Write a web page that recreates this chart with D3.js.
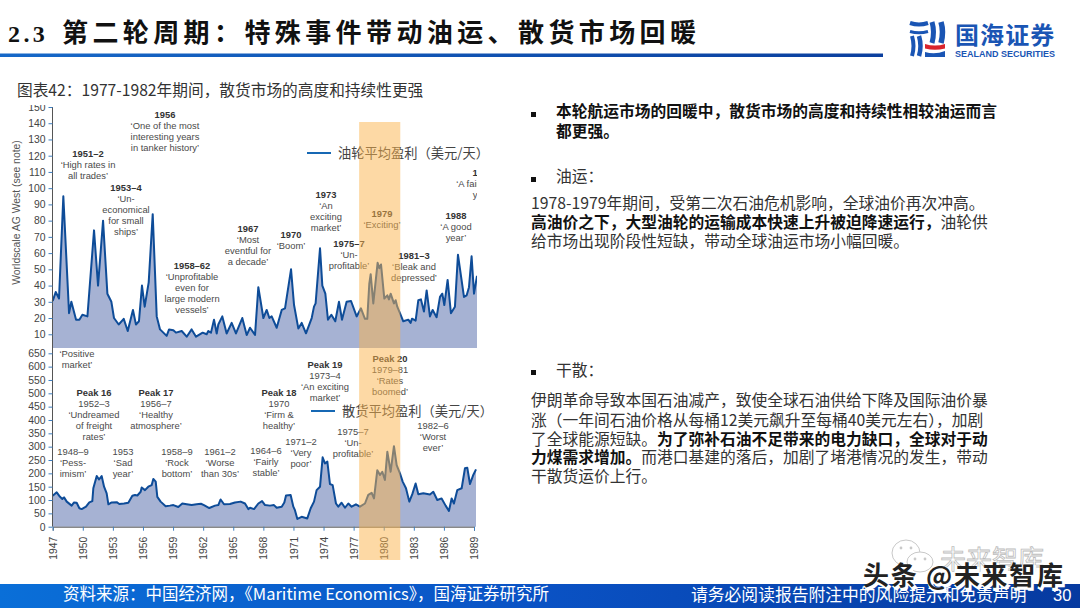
<!DOCTYPE html>
<html><head><meta charset="utf-8">
<script src="https://cdn.jsdelivr.net/npm/d3@7/dist/d3.min.js"></script>
<style>html,body{margin:0;padding:0;background:#fff;overflow:hidden}svg{display:block}
text{font-family:"Noto Sans CJK SC","Liberation Sans",sans-serif}</style></head><body><svg id="c" width="1080" height="608"></svg>
<script>
const tankerYears=[1947,1947.3,1947.63,1948.06,1948.63,1948.86,1949.33,1949.66,1949.96,1950.46,1951.12,1951.52,1952.02,1952.45,1952.85,1953.11,1953.58,1954.08,1954.48,1955,1955.3,1955.6,1955.9,1956.17,1956.57,1956.97,1957.37,1957.7,1958.36,1958.6,1959.03,1959.29,1959.86,1960.36,1960.85,1961.29,1961.95,1962.35,1962.51,1962.78,1963.08,1963.35,1963.51,1963.91,1964.34,1964.84,1965.27,1965.9,1966.34,1966.67,1967.17,1967.5,1968,1968.33,1968.6,1968.83,1969.33,1969.83,1970.16,1970.76,1971.06,1971.49,1971.82,1972.25,1972.82,1973.05,1973.21,1973.65,1973.88,1974.18,1974.44,1974.78,1975.17,1975.54,1975.84,1976.3,1976.74,1977.3,1977.73,1978.13,1978.36,1978.56,1978.7,1978.96,1979.39,1979.56,1979.73,1980.06,1980.36,1980.52,1980.69,1981.02,1981.19,1981.35,1981.62,1981.95,1982.45,1982.68,1982.82,1983.18,1983.45,1983.71,1984.01,1984.28,1984.61,1984.88,1985.27,1985.61,1985.84,1986.04,1986.37,1986.7,1987.1,1987.4,1988,1988.27,1988.5,1988.76,1989,1989.3];
const tankerValues=[30.5,36,32,95,23,30,19,19,22,21,74,40,80,35,30,20,16,19.5,12,25,16,18,40,27,42,84,21,13,9,13,12.5,11,12,8.5,13,8.5,11,10,12,11,19,10.5,16,21,10.5,17,10.5,20,9.5,14,9.6,39,20,25,20,21,14,25,26,50,28,13.5,17,10.6,20,27,29,63,40,35,19,22,18,30,19,30,30.5,21,26,19.5,19.5,41,47,29,54,50.7,53,32,34,31.5,35,29,31,27,23,18,19,17,19.6,18.4,31,31.5,24,37,21,25,20.5,33,35,28,43.5,23,27,59,33,34,39,58,35,46];
const bulkYears=[1947,1947.4,1947.73,1947.96,1948.13,1948.4,1948.89,1949.13,1949.39,1949.66,1949.89,1950.32,1950.65,1950.95,1951.05,1951.39,1951.62,1951.88,1952.12,1952.38,1952.55,1952.88,1953.38,1953.64,1954.11,1954.54,1954.94,1955.21,1955.44,1955.77,1955.87,1956.2,1956.53,1956.87,1957.03,1957.27,1957.43,1957.76,1958.26,1958.69,1959.03,1959.52,1959.92,1960.36,1960.85,1961.35,1961.78,1962.08,1962.61,1963.18,1963.51,1963.74,1964.08,1964.67,1965.17,1965.74,1966.17,1966.5,1966.67,1967.07,1967.5,1967.87,1968.17,1968.66,1969.06,1969.33,1969.83,1970.09,1970.26,1970.72,1970.99,1971.15,1971.39,1971.82,1972.38,1972.72,1973.05,1973.31,1973.65,1973.91,1974.14,1974.38,1974.64,1974.91,1975.24,1975.47,1975.8,1976.14,1976.47,1976.8,1977.23,1977.63,1978.13,1978.46,1978.8,1979.03,1979.36,1979.63,1979.86,1980.12,1980.36,1980.69,1981.02,1981.29,1981.62,1981.89,1982.22,1982.55,1982.85,1983.18,1983.45,1983.95,1984.61,1984.94,1985.34,1985.77,1986.17,1986.5,1986.77,1987,1987.33,1987.77,1988.1,1988.33,1988.6,1988.93,1989.2];
const bulkValues=[116,129,112,104,110,94,79,91,90,69,66,75,91,96,144,190,177,190,150,125,84,91,92,85,87,90,116,119,117,131,147,137,150,156,179,169,112,94,77,79,81,74,87,84,81,84,86,81,70,79,81,102,84,85,91,94,87,66,71,66,87,96,81,79,81,71,75,91,117,119,75,62,29,37,31,69,94,137,150,260,237,244,160,156,87,75,90,71,87,75,84,75,87,119,127,106,212,194,206,175,281,206,302,231,200,169,144,94,122,162,122,125,121,131,100,106,79,59,106,87,137,144,219,221,160,194,215];
const topTicks=d3.range(10,151,10);
const bottomTicks=d3.range(0,651,50);
const yearTicks=d3.range(1947,1990,3);
const highlightYears=[1977.55,1981.65];
const legendTanker="油轮平均盈利（美元/天）", legendBulk="散货平均盈利（美元/天）";
const yTitle="Worldscale AG West (see note)";
const topNotes=[[1,165,118,["1956","‘One of the most","interesting years","in tanker history’"]],
[1,88,157,["1951–2","‘High rates in","all trades’"]],
[1,126,191,["1953–4","‘Un-","economical","for small","ships’"]],
[1,192,269,["1958–62","‘Unprofitable","even for","large modern","vessels’"]],
[1,248,232,["1967","‘Most","eventful for","a decade’"]],
[1,291,238,["1970","‘Boom’"]],
[1,326,198,["1973","‘An","exciting","market’"]],
[1,349,247,["1975–7","‘Un-","profitable’"]],
[1,382,217,["1979","‘Exciting’"]],
[1,414,259,["1981–3","‘Bleak and","depressed’"]],
[1,456,219,["1988","‘A good","year’"]],
[1,483,176,["1989","‘A fairly good","year’"]]];
const bottomNotes=[[0,77,357,["‘Positive","market’"]],
[1,94,396,["Peak 16","1952–3","‘Undreamed","of freight","rates’"]],
[1,156,396,["Peak 17","1956–7","‘Healthy","atmosphere’"]],
[0,73,455,["1948–9","‘Pess-","imism’"]],
[0,123,455,["1953","‘Sad","year’"]],
[0,177,455,["1958–9","‘Rock","bottom’"]],
[0,220,455,["1961–2","‘Worse","than 30s’"]],
[0,266,454,["1964–6","‘Fairly","stable’"]],
[0,301,445,["1971–2","‘Very","poor’"]],
[1,279,396,["Peak 18","1970","‘Firm &","healthy’"]],
[1,325,368,["Peak 19","1973–4","‘An exciting","market’"]],
[1,390,362,["Peak 20","1979–81","‘Rates","boomed’"]],
[0,353,435,["1975–7","‘Un-","profitable’"]],
[0,433,429,["1982–6","‘Worst","ever’"]]];

const svg=d3.select("#c");
const defs=svg.append("defs");
const g1=defs.append("linearGradient").attr("id","foot");
g1.append("stop").attr("offset","0").attr("stop-color","#0a6fd8");
g1.append("stop").attr("offset","0.5").attr("stop-color","#0a52c4");
g1.append("stop").attr("offset","1").attr("stop-color","#063aa0");
const g2=defs.append("linearGradient").attr("id","rule");
g2.append("stop").attr("offset","0").attr("stop-color","#1668c8");
g2.append("stop").attr("offset","1").attr("stop-color","#0b3f9e");
defs.append("clipPath").attr("id","cl").append("rect").attr("x",0).attr("y",100).attr("width",477).attr("height",470);
defs.append("clipPath").attr("id","cla").append("rect").attr("x",0).attr("y",105).attr("width",100).attr("height",470);

const x=d3.scaleLinear().domain([1947,1989]).range([52.7,474]);
const yT=d3.scaleLinear().domain([0,150]).range([350.5,107]);
const yB=d3.scaleLinear().domain([0,650]).range([526.7,353.3]);
const floorT=1.5;

// header
svg.append("text").attr("x",8).attr("y",41.5).attr("font-size",24).attr("font-weight",700).attr("letter-spacing",3.4).style("font-family","'Liberation Serif',serif").attr("fill","#111").text("2.3");
svg.append("text").attr("x",62).attr("y",42).attr("font-size",26).attr("font-weight",700).attr("letter-spacing",4.4).attr("fill","#111").text("第二轮周期：特殊事件带动油运、散货市场回暖");
svg.append("rect").attr("x",0).attr("y",53.5).attr("width",883).attr("height",3.5).attr("fill","url(#rule)");

// logo
const lg=svg.append("g").attr("fill","none").attr("stroke","#1a55b4");
[["M910 23Q919 26 928 23",4],["M910 31.5Q919 34 928 31.5",3],["M912 36Q915 46 912 56",4],["M919 36Q922 46 919 56",4.5],["M932 22Q935 32 932 43",5],["M941 22Q944 32 941 43",5.5]].forEach(([d,w])=>lg.append("path").attr("d",d).attr("stroke-width",w));
svg.append("path").attr("d","M925 44Q935 47 945 44V48.5Q935 51 925 48.5Z").attr("fill","#d8242c");
svg.append("path").attr("d","M925 52Q935 55 945 51V57H925Z").attr("fill","#1a55b4");
svg.append("text").attr("x",955).attr("y",44).attr("font-size",24).attr("font-weight",700).attr("letter-spacing",1.1).attr("fill","#1a55b4").text("国海证券");
svg.append("text").attr("x",955).attr("y",57).attr("font-size",9).attr("font-weight",700).attr("fill","#1a55b4").style("font-family","'Liberation Sans'").text("SEALAND SECURITIES");

// figure title
svg.append("text").attr("x",17).attr("y",96).attr("font-size",15.7).attr("fill","#333").text("图表42：1977-1982年期间，散货市场的高度和持续性更强");

// series
function series(ys,vs,yS,base){
  const d=ys.map((t,i)=>[t,vs[i]]);
  const g=svg.append("g").attr("clip-path","url(#cl)");
  g.append("path").datum(d).attr("fill","#a6b2d3").attr("d",d3.area().x(p=>x(p[0])).y0(yS(base)).y1(p=>yS(p[1])));
  g.append("path").datum(d).attr("fill","none").attr("stroke","#0e4c98").attr("stroke-width",2).attr("stroke-linejoin","round").attr("d",d3.line().x(p=>x(p[0])).y(p=>yS(p[1])));
}
series(tankerYears,tankerValues,yT,floorT);
series(bulkYears,bulkValues,yB,0);

// axes
function styleAxis(g){
  g.selectAll("text").attr("fill","#444").attr("font-size",10.4).style("font-family","'Liberation Sans'");
  g.selectAll(".tick line").attr("stroke","#3f7fc0").attr("stroke-width",1);
  g.select(".domain").attr("stroke","#555").attr("stroke-width",1);
}
const a1=svg.append("g").attr("clip-path","url(#cla)").append("g").attr("transform","translate(52.5,0)").call(d3.axisLeft(yT).tickValues(topTicks).tickSizeOuter(0).tickSize(4).tickPadding(3));
styleAxis(a1);
a1.select(".domain").attr("d","M0,348V107");
const a2=svg.append("g").attr("transform","translate(52.5,0)").call(d3.axisLeft(yB).tickValues(bottomTicks).tickSizeOuter(0).tickSize(4).tickPadding(3));
styleAxis(a2);
a2.select(".domain").attr("d","M0,526.7V347");
const a3=svg.append("g").attr("transform","translate(0,526.7)").call(d3.axisBottom(x).tickValues(yearTicks).tickFormat(d3.format("d")).tickSizeOuter(0).tickSize(4));
styleAxis(a3);
a3.selectAll("text").attr("transform","rotate(-90)").attr("text-anchor","end").attr("x",-10).attr("y",0).attr("dy","0.35em");
svg.append("text").attr("transform","translate(20,212.5) rotate(-90)").attr("text-anchor","middle").attr("font-size",10.4).attr("fill","#555").style("font-family","'Liberation Sans'").text(yTitle);

// notes
function notes(list){
  const g=svg.append("g").attr("clip-path","url(#cl)");
  list.forEach(([b,cx,by,ls])=>ls.forEach((s,i)=>g.append("text").attr("x",cx).attr("y",by+i*11.1).attr("text-anchor","middle").attr("font-size",9.4).attr("font-weight",b&&i==0?700:400).attr("fill",b&&i==0?"#333":"#4a4a4a").style("font-family","'Liberation Sans'").text(s)));
}
notes(topNotes);notes(bottomNotes);

// legends
function legend(lx,ly,t){
  svg.append("line").attr("x1",lx).attr("x2",lx+24).attr("y1",ly).attr("y2",ly).attr("stroke","#1668b4").attr("stroke-width",2);
  svg.append("text").attr("x",lx+31).attr("y",ly+5).attr("font-size",13.25).attr("fill","#444").text(t);
}
legend(307,153,legendTanker);legend(311,411,legendBulk);

// highlight
svg.append("rect").attr("x",x(highlightYears[0])).attr("y",122).attr("width",x(highlightYears[1])-x(highlightYears[0])).attr("height",438).attr("fill","#fbb34c").attr("opacity",.5);

// right text
function rich(px,py,parts){
  const t=svg.append("text").attr("x",px).attr("y",py).attr("font-size",15.75).attr("fill","#333");
  parts.forEach(([s,b])=>t.append("tspan").attr("font-weight",b?700:400).attr("fill",b?"#111":"#333").text(s));
}
[[531,112],[531,177],[531,370]].forEach(([bx,by])=>svg.append("rect").attr("x",bx).attr("y",by).attr("width",5).attr("height",5).attr("fill","#111"));
rich(556,117,[["本轮航运市场的回暖中，散货市场的高度和持续性相较油运而言",1]]);
rich(556,136.5,[["都更强。",1]]);
rich(556,182,[["油运：",0]]);
rich(531,209,[["1978-1979年期间，受第二次石油危机影响，全球油价再次冲高。",0]]);
rich(531,228,[["高油价之下，大型油轮的运输成本快速上升被迫降速运行，",1],["油轮供",0]]);
rich(531,247,[["给市场出现阶段性短缺，带动全球油运市场小幅回暖。",0]]);
rich(556,376,[["干散：",0]]);
rich(531,406,[["伊朗革命导致本国石油减产，致使全球石油供给下降及国际油价暴",0]]);
rich(531,425.5,[["涨（一年间石油价格从每桶12美元飙升至每桶40美元左右），加剧",0]]);
rich(531,444.5,[["了全球能源短缺。",0],["为了弥补石油不足带来的电力缺口，全球对于动",1]]);
rich(531,463,[["力煤需求增加。",1],["而港口基建的落后，加剧了堵港情况的发生，带动",0]]);
rich(531,482,[["干散货运价上行。",0]]);

// footer
svg.append("rect").attr("x",0).attr("y",584).attr("width",1080).attr("height",24).attr("fill","url(#foot)");
svg.append("text").attr("x",63).attr("y",600).attr("font-size",16.5).attr("fill","#fff").text("资料来源：中国经济网，《Maritime Economics》，国海证券研究所");
svg.append("text").attr("x",691).attr("y",601).attr("font-size",16.8).attr("fill","#fff").text("请务必阅读报告附注中的风险提示和免责声明");
svg.append("text").attr("x",1053).attr("y",601).attr("font-size",16.5).attr("fill","#fff").style("font-family","'Liberation Sans'").text("30");

// watermark
const wm=svg.append("g").attr("fill","#fff").attr("stroke","#c9c9c9").attr("stroke-width",1);
wm.append("ellipse").attr("cx",906).attr("cy",553).attr("rx",14).attr("ry",13);
wm.append("ellipse").attr("cx",920).attr("cy",562).attr("rx",13).attr("ry",10);
[[901,548],[911,548],[915,559],[925,559]].forEach(([a,b])=>wm.append("circle").attr("cx",a).attr("cy",b).attr("r",1.4).attr("fill","#c9c9c9").attr("stroke","none"));
svg.append("text").attr("x",940).attr("y",569).attr("font-size",26).attr("fill","#fff").attr("stroke","#bdbdbd").attr("stroke-width",.8).text("未来智库");
svg.append("text").attr("x",864.5).attr("y",586.5).attr("font-size",26).attr("font-weight",700).attr("fill","#fff").attr("stroke","#fff").attr("stroke-width",2.5).attr("letter-spacing",1.7).text("头条 @未来智库");
svg.append("text").attr("x",863).attr("y",585).attr("font-size",26).attr("font-weight",700).attr("fill","#222").attr("letter-spacing",1.7).text("头条 @未来智库");
</script></body></html>
